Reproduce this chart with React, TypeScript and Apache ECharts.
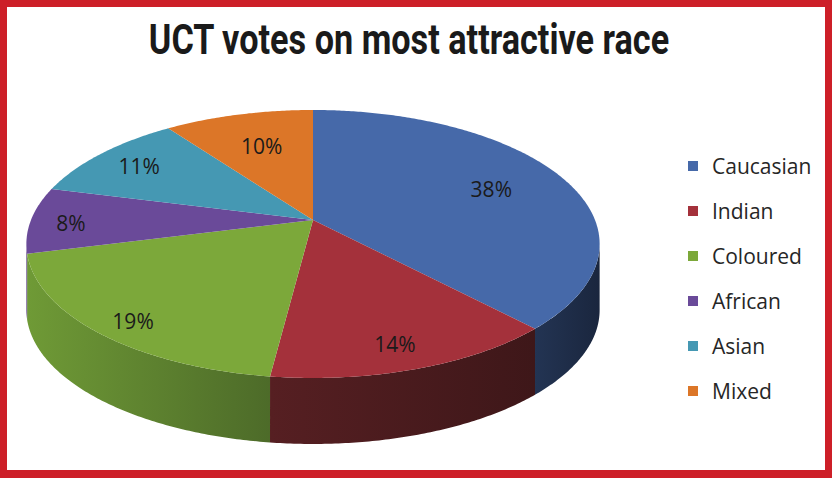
import React, { useEffect, useRef } from "react";
import * as echarts from "echarts";

const titleText = "UCT votes on most attractive race";
const categories = ["Caucasian", "Indian", "Coloured", "African", "Asian", "Mixed"];
const values = [38, 14, 19, 8, 11, 10];
const topColors = ["#4669a9", "#a4313b", "#7ca83a", "#6a4a99", "#4598b3", "#dc7628"];
const sideLeftColors = ["#233453", "#561f22", "#6f9a36", "#5c4084", "#3b7f96", "#b8611f"];
const sideRightColors = ["#1a263e", "#3e1719", "#4d6b29", "#4d356f", "#2f6678", "#9a5019"];

// perspective ellipse geometry (styles / layout)
const CX = 313, CY = 220, A = 282, B = 129.7, K = 0.179, D = 66;

function proj(theta: number, r = 1): [number, number] {
  const c = Math.cos(theta) * r;
  const s = Math.sin(theta) * r;
  const den = 1 + K * s;
  return [CX + (A * c) / den, CY - (B * s) / den];
}

function arc(t1: number, t2: number): [number, number][] {
  const n = Math.max(2, Math.ceil(Math.abs(t1 - t2) / 0.01));
  const pts: [number, number][] = [];
  for (let i = 0; i <= n; i++) pts.push(proj(t1 + ((t2 - t1) * i) / n));
  return pts;
}

function sliceAngles(idx: number): [number, number] {
  const total = values.reduce((a, b) => a + b, 0);
  let cum = 0;
  for (let i = 0; i < idx; i++) cum += values[i];
  const start = Math.PI / 2 - (2 * Math.PI * cum) / total;
  const end = Math.PI / 2 - (2 * Math.PI * (cum + values[idx])) / total;
  return [start, end];
}

export default function App() {
  const ref = useRef<HTMLDivElement>(null);
  useEffect(() => {
    if (!ref.current) return;
    const chart = echarts.init(ref.current, null, { renderer: "svg" });
    const frontHi = -Math.asin(K);
    const frontLo = -Math.PI + Math.asin(K);
    const total = values.reduce((a, b) => a + b, 0);

    const wallSeries = {
      type: "custom",
      coordinateSystem: "none",
      silent: true,
      z: 1,
      data: values.map((v, i) => ({ name: categories[i], value: [i, v] })),
      renderItem: (params: any) => {
        const i = params.dataIndex;
        const [start, end] = sliceAngles(i);
        const hi = Math.min(start, frontHi);
        const lo = Math.max(end, frontLo);
        if (lo >= hi) return { type: "group", children: [] };
        const topPts = arc(hi, lo);
        const botPts = topPts.slice().reverse().map(([x, y]) => [x, y + D]);
        return {
          type: "polygon",
          shape: { points: topPts.concat(botPts as any) },
          style: {
            fill: {
              type: "linear", x: 0, y: 0, x2: 1, y2: 0,
              colorStops: [
                { offset: 0, color: sideLeftColors[i] },
                { offset: 1, color: sideRightColors[i] },
              ],
            },
            stroke: null,
          },
        };
      },
    };

    const topSeries = {
      type: "custom",
      coordinateSystem: "none",
      silent: true,
      z: 2,
      data: values.map((v, i) => ({ name: categories[i], value: [i, v] })),
      renderItem: (params: any) => {
        const i = params.dataIndex;
        const [start, end] = sliceAngles(i);
        const pts = [[CX, CY] as [number, number]].concat(arc(start, end));
        const mid = (start + end) / 2;
        const rim = proj(mid);
        const dx = CX - rim[0], dy = CY - rim[1];
        const len = Math.sqrt(dx * dx + dy * dy);
        const inset = 40 + Math.max(0, values[i] / total - 0.2) * 160;
        const lx = rim[0] + (dx / len) * inset;
        const ly = rim[1] + (dy / len) * inset + 5 * (-Math.sin(mid) + 0.6);
        const pct = Math.round((values[i] / total) * 100) + "%";
        return {
          type: "group",
          children: [
            { type: "polygon", shape: { points: pts }, style: { fill: topColors[i], stroke: null } },
            {
              type: "text",
              x: lx, y: ly,
              style: {
                text: pct,
                fontSize: 21,
                fontFamily: "Open Sans",
                fill: "#1a1a1a",
                align: "center",
                verticalAlign: "middle",
              },
            },
          ],
        };
      },
    };

    const legendPie = {
      type: "pie",
      radius: [0, 0],
      center: [-100, -100],
      silent: true,
      label: { show: false },
      data: values.map((v, i) => ({ name: categories[i], value: v, itemStyle: { color: topColors[i] } })),
    };

    chart.setOption({
      animation: false,
      backgroundColor: "#ffffff",
      legend: {
        orient: "vertical",
        left: 683,
        top: 150,
        icon: "rect",
        itemWidth: 10,
        itemHeight: 10,
        itemGap: 23,
        selectedMode: false,
        data: categories,
        textStyle: { fontSize: 21, lineHeight: 22, fontFamily: "Open Sans", color: "#262626", padding: [0, 0, 0, 9] },
      },
      graphic: [
        { type: "rect", shape: { x: 0, y: 0, width: 832, height: 7 }, style: { fill: "#cd1f28" } },
        { type: "rect", shape: { x: 0, y: 0, width: 7, height: 478 }, style: { fill: "#cd1f28" } },
        { type: "rect", shape: { x: 825, y: 0, width: 7, height: 478 }, style: { fill: "#cd1f28" } },
        { type: "rect", shape: { x: 0, y: 470, width: 832, height: 8 }, style: { fill: "#cd1f28" } },
        {
          type: "text",
          x: 409,
          y: 39,
          scaleX: 0.815,
          style: {
            text: titleText,
            font: "bold 42px Roboto",
            fill: "#1a1a1a",
            textAlign: "center",
            textVerticalAlign: "middle",
          },
        },
      ],
      series: [wallSeries, topSeries, legendPie],
    } as any);
    return () => chart.dispose();
  }, []);
  return (
    <div
      ref={ref}
      style={{ position: "fixed", left: 0, top: 0, width: 832, height: 478 }}
    />
  );
}
